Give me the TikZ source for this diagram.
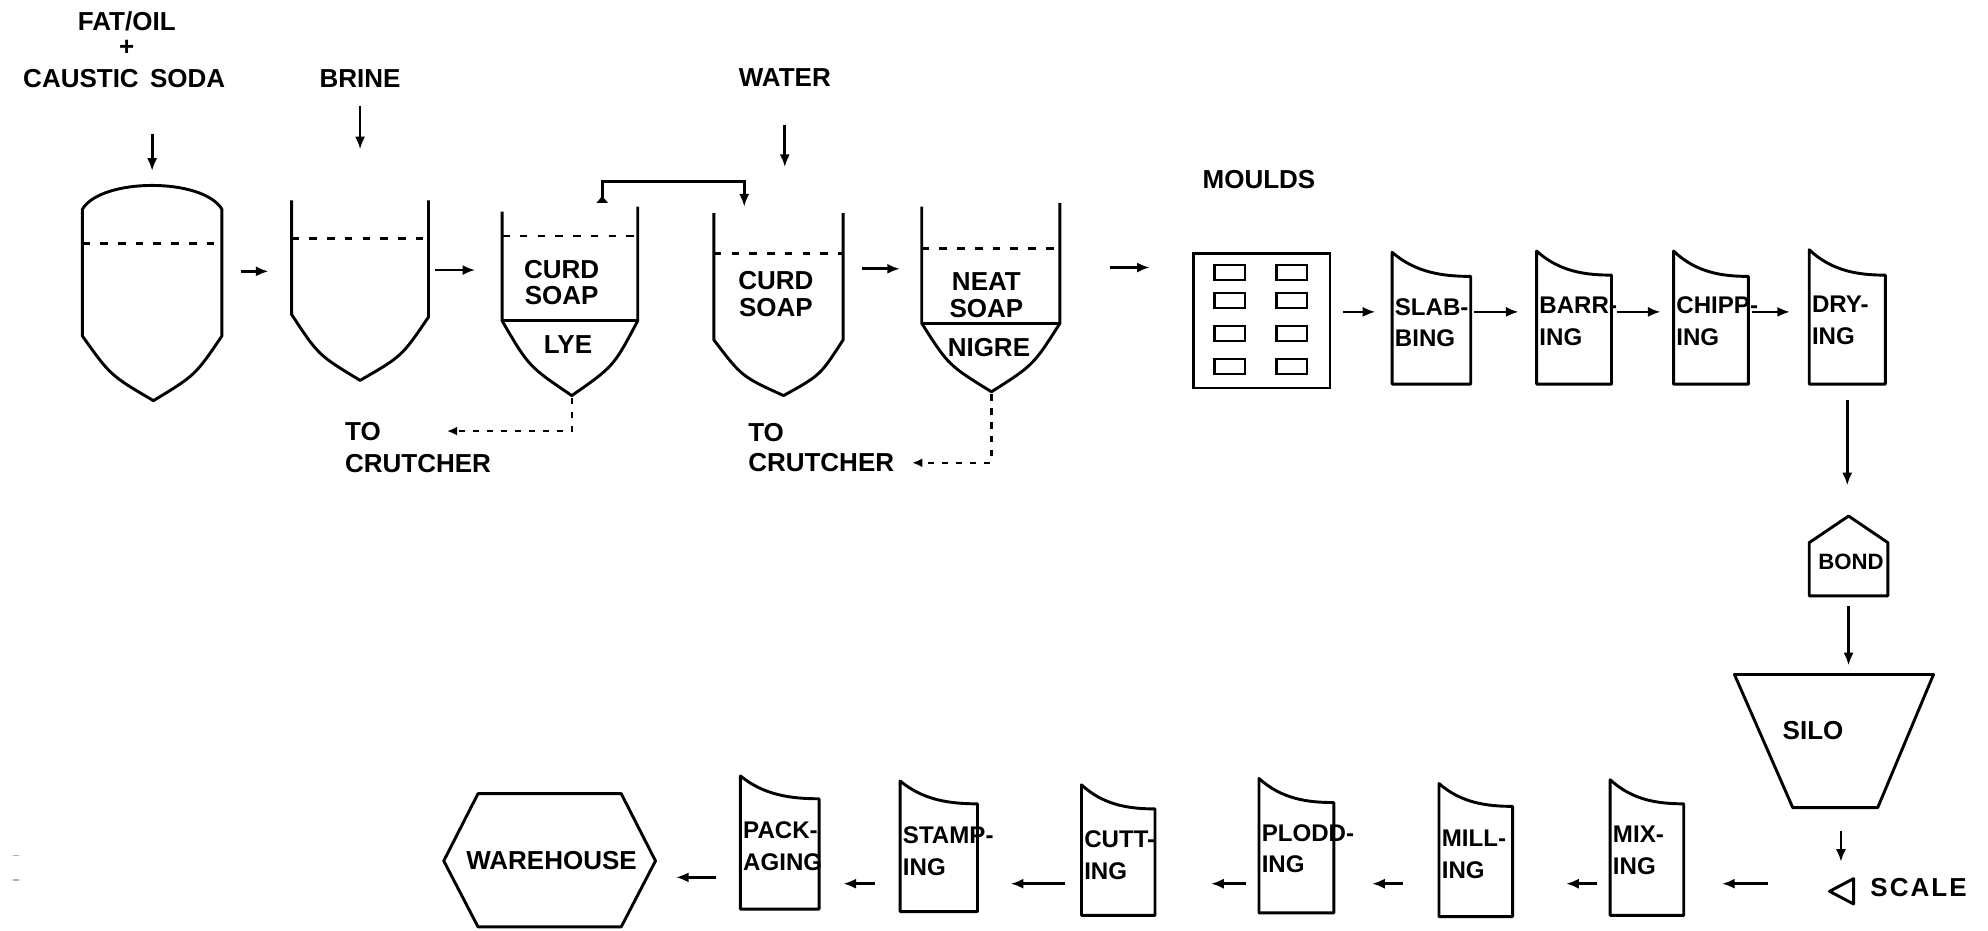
\documentclass[tikz,border=0pt]{standalone}
\usepackage{fontspec}
\setmainfont{Liberation Sans}
\usetikzlibrary{arrows.meta,calc}
\newcommand\proccard[9]{%
  \draw[shp] (#2,#4) .. controls ({#2+0.3*(#3-#2)},{#4+0.85*(#5-#4)}) and ({#3-0.35*(#3-#2)},{#5}) .. (#3,#5) -- (#3,#6) -- (#2,#6) -- cycle;
  \node[inner sep=0pt, minimum width={(#3-#2)*1pt}, minimum height={2*(#6-#9)*1pt}] (#1) at ({(#2+#3)/2},#9) {};
  \node[clbl] at ({#2+2},{#4+43}) {#7};
  \node[clbl] at ({#2+2},{#4+68}) {#8};
}
\begin{document}
\begin{tikzpicture}[x=1pt,y=-1pt,
  shp/.style={line width=2.3pt, line join=round},
  arr/.style={line width=2.2pt, -{Latex[length=10pt,width=8pt]}},
  darr/.style={line width=2pt, dash pattern=on 5pt off 6pt, -{Latex[length=8pt,width=7pt]}},
  lvl/.style={line width=2pt, dash pattern=on 6pt off 8pt},
  lbl/.style={font=\bfseries\fontsize{20.5}{21}\selectfont, inner sep=0pt, align=center},
  clbl/.style={font=\bfseries\fontsize{19}{20}\selectfont, inner sep=0pt, anchor=west},
  hold/.style={inner sep=0pt}]
\useasboundingbox (0,0) rectangle (1568,734);

% scanning marks at left edge
\draw[gray!60, line width=1pt] (10,675) -- (15,675) (10,694) -- (15,694);

% ---- inputs
\node[lbl] (fat) at (100,17) {FAT/OIL};
\node[lbl] (plus) at (100,38) {+};
\node[lbl] (caustic) at (98,62) {CAUSTIC\hspace{9pt}SODA};
\node[lbl] (brine) at (284,62) {BRINE};
\node[lbl] (water) at (619,61) {WATER};
\node[lbl] (mouldslbl) at (993,142) {MOULDS};

% ---- tank 1
\draw[shp] (65,265) -- (65,165) .. controls (80,140) and (160,140) .. (175,165) -- (175,265)
  .. controls (154,296) .. (121,316) .. controls (87,296) .. cycle;
\draw[lvl] (65,192) -- (175,192);
\node[hold, minimum width=110pt, minimum height=136pt] (t1) at (120,214) {};

% ---- tank 2
\draw[shp] (230,158) -- (230,248) .. controls (251,280) .. (284,300) .. controls (317,281) .. (338,250) -- (338,158);
\draw[lvl] (230,188) -- (338,188);
\node[hold, minimum width=108pt, minimum height=110pt] (t2) at (284,213) {};

% ---- tank 3
\draw[shp] (396,167) -- (396,253) .. controls (417,289) .. (451,312) .. controls (484,289) .. (503,253) -- (503,163);
\draw[lvl] (396,186) -- (503,186);
\draw[shp] (396,253) -- (503,253);
\node[lbl] at (443,223) {CURD\\SOAP};
\node[lbl] at (448,272) {LYE};
\node[hold, minimum width=107pt, minimum height=92pt] (t3) at (449.5,213) {};

% ---- tank 4
\draw[shp] (563,168) -- (563,268) .. controls (585,297) .. (618,312) .. controls (647,296) .. (665,268) -- (665,168);
\draw[lvl] (563,200) -- (665,200);
\node[lbl] at (612,232) {CURD\\SOAP};
\node[hold, minimum width=102pt, minimum height=88pt] (t4) at (614,212) {};

% ---- tank 5
\draw[shp] (727,163) -- (727,255) .. controls (748,288) .. (782,309) .. controls (815,288) .. (836,255) -- (836,160);
\draw[lvl] (727,196) -- (836,196);
\draw[shp] (727,255) -- (836,255);
\node[lbl] at (778,233) {NEAT\\SOAP};
\node[lbl] at (780,274) {NIGRE};
\node[hold, minimum width=109pt, minimum height=96pt] (t5) at (781.5,211) {};

% ---- crutcher labels
\node[lbl, anchor=west] (toA) at (272,340) {TO};
\node[lbl, anchor=west] (crA) at (272,366) {CRUTCHER};
\node[lbl, anchor=west] (toB) at (590,341) {TO};
\node[lbl, anchor=west] (crB) at (590,365) {CRUTCHER};
\coordinate (t3b) at (451,314);
\coordinate (t5b) at (782,311);
\draw[darr, shorten >=52pt] (t3b) |- (toA.east);
\draw[darr, shorten >=14pt] (t5b) |- (crB.east);

% ---- recycle line
\coordinate (rcA) at (475,160);
\coordinate (rcB) at (587,163);
\draw[line width=2.2pt, {Latex[reversed,length=6pt,width=10pt]}-{Latex[length=10pt,width=8pt]}] (rcA) -- ++(0,-17) -| (rcB);

% ---- moulds
\node[draw, line width=2.3pt, inner sep=0pt, minimum width=108pt, minimum height=106pt] (moulds) at (995,253) {};
\foreach \yy in {215,237,263,289}{
  \draw[line width=2pt] (958,\yy-6) rectangle (982,\yy+6);
  \draw[line width=2pt] (1007,\yy-6) rectangle (1031,\yy+6);
}

% ---- process cards, top row
\proccard{slab}{1098}{1160}{199}{218}{303}{SLAB-}{BING}{246}
\proccard{barr}{1212}{1271}{198}{217}{303}{BARR-}{ING}{246}
\proccard{chip}{1320}{1379}{198}{218}{303}{CHIPP-}{ING}{246}
\proccard{dry}{1427}{1487}{197}{217}{303}{DRY-}{ING}{246}

% ---- bond, silo, scale
\draw[shp] (1427,470) -- (1427,428) -- (1458,407) -- (1489,428) -- (1489,470) -- cycle;
\node[hold, minimum width=62pt, minimum height=63pt] (bond) at (1458,438.5) {};
\node[font=\bfseries\fontsize{17.5}{18}\selectfont, inner sep=0pt] at (1460,443) {BOND};
\draw[shp] (1368,532) -- (1525,532) -- (1481,637) -- (1414,637) -- cycle;
\node[hold, minimum width=157pt, minimum height=105pt] (silo) at (1446.5,584.5) {};
\node[lbl] at (1430,576) {SILO};
\draw[shp] (1443,703) -- (1462,693) -- (1462,713) -- cycle;
\node[hold, minimum width=20pt, minimum height=32pt] (scale) at (1452,697) {};
\node[lbl, anchor=west] at (1475,700) {\addfontfeature{LetterSpace=8}SCALE};

% ---- process cards, bottom row
\proccard{mix}{1270}{1328}{615}{634}{722}{MIX-}{ING}{697}
\proccard{mill}{1135}{1193}{618}{636}{723}{MILL-}{ING}{697}
\proccard{plod}{993}{1052}{614}{633}{720}{PLODD-}{ING}{697}
\proccard{cut}{853}{911}{619}{638}{722}{CUTT-}{ING}{697}
\proccard{stamp}{710}{771}{616}{634}{719}{STAMP-}{ING}{697}
\proccard{pack}{584}{646}{612}{630}{717}{PACK-}{AGING}{697}

% ---- warehouse
\draw[shp] (350,679) -- (377,626) -- (490,626) -- (517,679) -- (490,731) -- (377,731) -- cycle;
\node[hold, minimum width=167pt, minimum height=106pt] (ware) at (433.5,679) {};
\node[lbl] at (435,679) {WAREHOUSE};

% ---- connectors
\draw[arr, shorten <=36pt, shorten >=11pt] (caustic.south -| t1.north) -- (t1.north);
\draw[arr, shorten <=14pt, shorten >=40pt] (brine.south) -- (brine.south |- t2.north);
\draw[arr, shorten <=30pt, shorten >=36pt] (water.south) -- (water.south |- t4.north);
\draw[arr, shorten <=15pt, shorten >=18pt] (t1.east) -- (t1.east -| t2.west);
\draw[arr, shorten <=5pt, shorten >=21pt] (t2.east) -- (t2.east -| t3.west);
\draw[arr, shorten <=15pt, shorten >=17pt] (t4.east) -- (t4.east -| t5.west);
\draw[arr, shorten <=39pt, shorten >=33pt] (t5.east) -- (t5.east -| moulds.west);
\draw[arr, shorten <=9pt, shorten >=13pt] (moulds.east |- slab.west) -- (slab.west);
\draw[arr, shorten <=2pt, shorten >=14pt] (slab.east) -- (barr.west);
\draw[arr, shorten <=4pt, shorten >=10pt] (barr.east) -- (chip.west);
\draw[arr, shorten <=3pt, shorten >=15pt] (chip.east) -- (dry.west);
\draw[arr, shorten <=12pt, shorten >=24pt] (dry.south) -- (dry.south |- bond.north);
\draw[arr, shorten <=8pt, shorten >=7pt] (bond.south) -- (bond.south |- silo.north);
\draw[arr, shorten <=18pt, shorten >=1pt] (silo.south -| scale.north) -- (scale.north);
\draw[arr, shorten <=47pt, shorten >=30pt] (scale.west) -- (mix.east);
\draw[arr, shorten <=10pt, shorten >=42pt] (mix.west) -- (mill.east);
\draw[arr, shorten <=28pt, shorten >=30pt] (mill.west) -- (plod.east);
\draw[arr, shorten <=10pt, shorten >=44pt] (plod.west) -- (cut.east);
\draw[arr, shorten <=13pt, shorten >=26pt] (cut.west) -- (stamp.east);
\draw[arr, shorten <=20pt, shorten >=19pt] (stamp.west) -- (pack.east);
\draw[arr, shorten <=19pt, shorten >=16pt] ([yshift=5pt]pack.west) -- ([yshift=5pt]pack.west -| ware.east);
\end{tikzpicture}
\end{document}
